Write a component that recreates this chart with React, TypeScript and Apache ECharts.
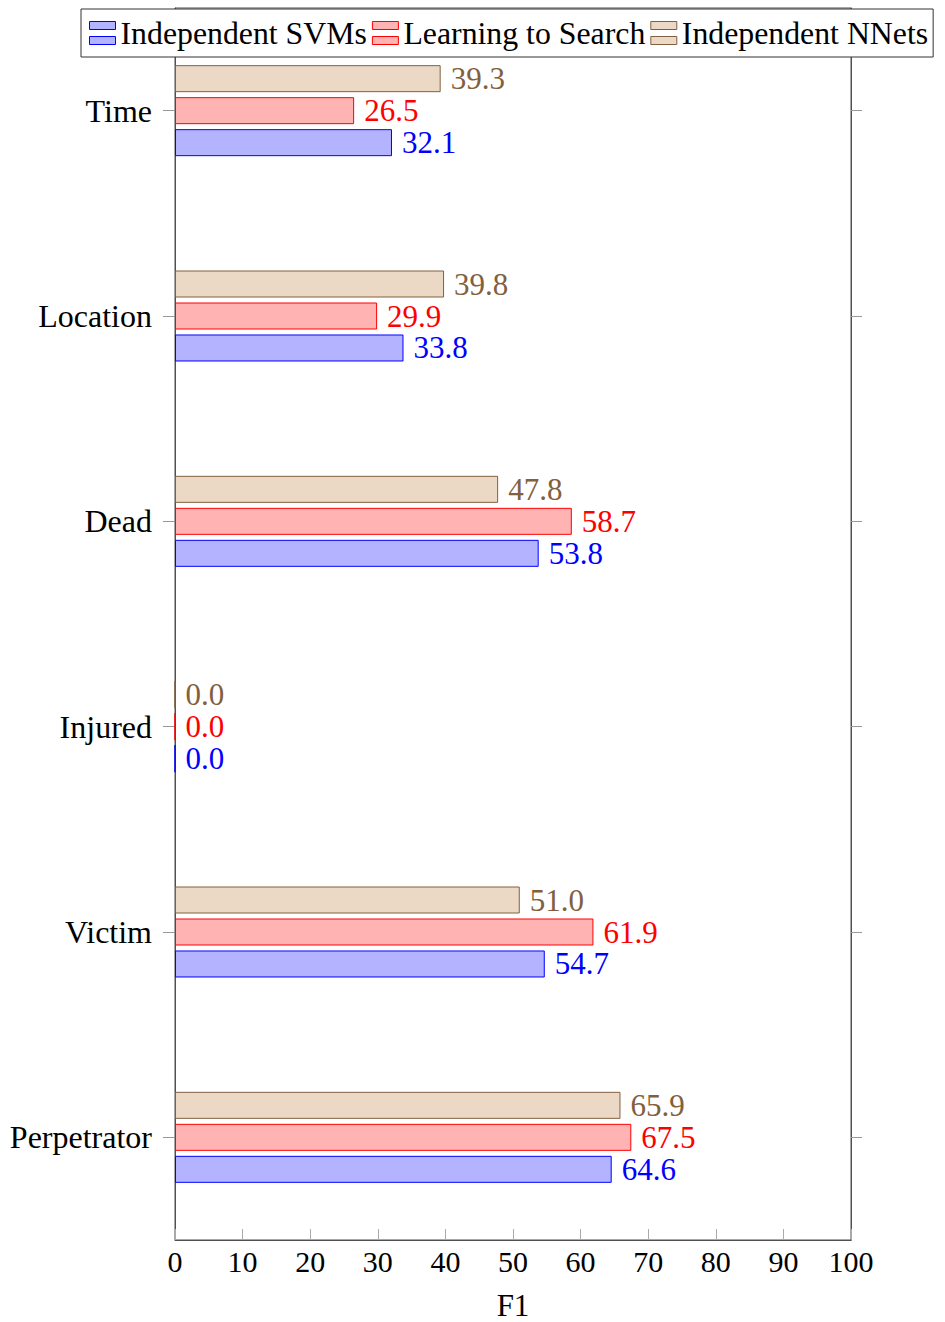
import React, { useEffect, useRef } from "react";
import * as echarts from "echarts";

const categories = ["Time", "Location", "Dead", "Injured", "Victim", "Perpetrator"];
const svmValues = [32.1, 33.8, 53.8, 0.0, 54.7, 64.6];
const l2sValues = [26.5, 29.9, 58.7, 0.0, 61.9, 67.5];
const nnetValues = [39.3, 39.8, 47.8, 0.0, 51.0, 65.9];
const xTicks = [0, 10, 20, 30, 40, 50, 60, 70, 80, 90, 100];

const FONT = "'Liberation Serif', 'Times New Roman', serif";
const ICON = "path://M0,0H26V8H0Z M0,15H26V23H0Z";

const SVM = { name: "Independent SVMs", fill: "#b3b3ff", stroke: "#0000ff" };
const L2S = { name: "Learning to Search", fill: "#ffb3b3", stroke: "#ff0000" };
const NNET = { name: "Independent NNets", fill: "#ebd9c6", stroke: "#82603e" };

export default function App() {
  const ref = useRef<HTMLDivElement>(null);
  useEffect(() => {
    if (!ref.current) return;
    const chart = echarts.init(ref.current, undefined, { renderer: "svg" });
    const mk = (s: { name: string; fill: string; stroke: string }, data: number[]) => ({
      name: s.name,
      type: "bar",
      data,
      barWidth: 27,
      barGap: "18.5%",
      itemStyle: { color: s.fill, borderColor: s.stroke, borderWidth: 1 },
      label: {
        show: true,
        position: "right",
        distance: 10,
        color: s.stroke,
        fontFamily: FONT,
        fontSize: 31,
        formatter: (p: any) => Number(p.value).toFixed(1),
      },
    });
    const legendItem = (s: { name: string; fill: string; stroke: string }) => ({
      name: s.name,
      icon: ICON,
      itemStyle: { color: s.fill, borderColor: s.stroke, borderWidth: 1 },
    });
    chart.setOption({
      animation: false,
      backgroundColor: "#ffffff",
      legend: {
        data: [legendItem(SVM), legendItem(L2S), legendItem(NNET)],
        left: 81,
        top: 9,
        orient: "horizontal",
        itemWidth: 26,
        itemHeight: 23,
        itemGap: 5,
        padding: [8, 5, 8, 8],
        backgroundColor: "#ffffff",
        borderColor: "#333333",
        borderWidth: 1,
        borderRadius: 0,
        textStyle: { fontFamily: FONT, fontSize: 31.8, color: "#000000" },
      },
      grid: {
        left: 175,
        right: 94,
        top: 8,
        bottom: 82,
        outerBoundsMode: "none",
        containLabel: false,
        show: true,
        borderColor: "#505050",
        borderWidth: 1,
      },
      xAxis: {
        type: "value",
        min: 0,
        max: 100,
        interval: 10,
        name: "F1",
        nameLocation: "middle",
        nameGap: 50,
        nameTextStyle: { fontFamily: FONT, fontSize: 31, color: "#000000" },
        axisLine: { show: true, lineStyle: { color: "#505050", width: 1 } },
        axisTick: { show: true, inside: true, length: 11, lineStyle: { color: "#aaaaaa" } },
        axisLabel: {
          fontFamily: FONT,
          fontSize: 30,
          color: "#000000",
          margin: 6,
          formatter: (v: number) => (xTicks.includes(v) ? String(v) : ""),
        },
        splitLine: { show: false },
      },
      yAxis: [
        {
          type: "category",
          data: categories,
          inverse: true,
          axisLine: { show: true, lineStyle: { color: "#505050", width: 1 } },
          axisTick: { show: true, alignWithLabel: true, length: 12, lineStyle: { color: "#999999" } },
          axisLabel: { fontFamily: FONT, fontSize: 32, color: "#000000", margin: 23 },
        },
        {
          type: "category",
          data: categories,
          inverse: true,
          position: "right",
          axisLine: { show: true, lineStyle: { color: "#505050", width: 1 } },
          axisTick: { show: true, alignWithLabel: true, length: 11, lineStyle: { color: "#999999" } },
          axisLabel: { show: false },
        },
      ],
      series: [mk(NNET, nnetValues), mk(L2S, l2sValues), mk(SVM, svmValues)],
    });
    return () => chart.dispose();
  }, []);
  return (
    <div
      ref={ref}
      style={{ position: "absolute", left: 0, top: 0, width: 945, height: 1322 }}
    />
  );
}
